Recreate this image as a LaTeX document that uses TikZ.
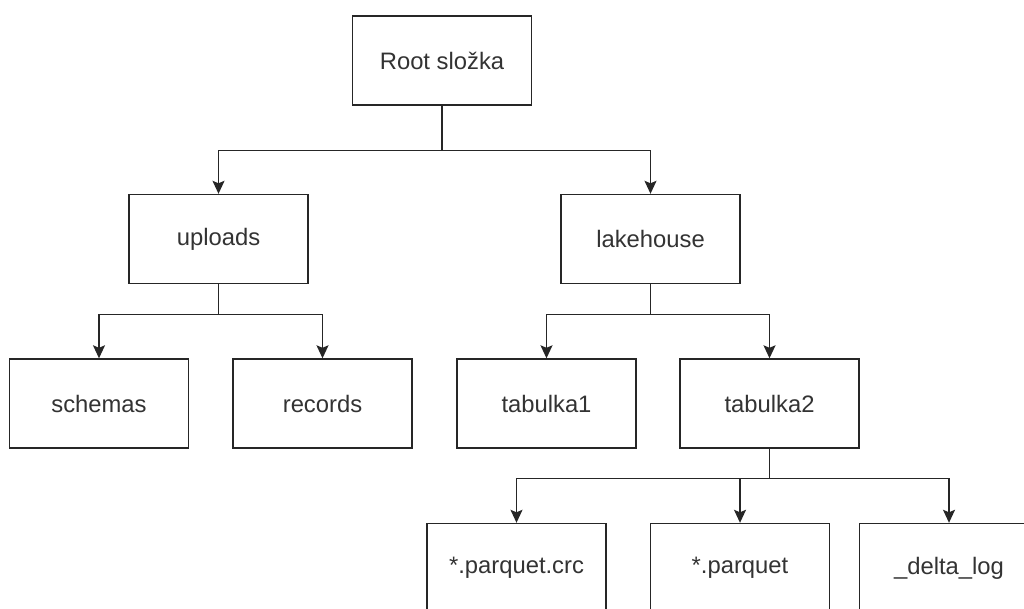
\documentclass[tikz,border=0pt]{standalone}
\usepackage{fontspec}
\setmainfont{Liberation Sans}
\usetikzlibrary{arrows.meta}
\definecolor{edgegray}{HTML}{262626}
\definecolor{textgray}{HTML}{333333}
\begin{document}
\begin{tikzpicture}[x=1pt,y=-1pt,
  folder/.style={draw=edgegray, line width=1.4pt, fill=white,
    minimum width=179pt, minimum height=89pt, inner sep=0pt,
    text=textgray, font=\fontsize{23.8}{28}\selectfont},
  link/.style={draw=edgegray, line width=1.4pt,
    -{Stealth[length=13pt,width=12pt,inset=2.5pt]}}]
  \useasboundingbox (0,0) rectangle (1024,608);
  \clip (0,0) rectangle (1024,608);

  % folder tree
  \node[folder] (root) at (442,60.5) {Root složka};
  \node[folder] (uploads) at (218.5,239) {uploads};
  \node[folder] (lake) at (650.5,239) {lakehouse};
  \node[folder] (schemas) at (99,403.5) {schemas};
  \node[folder] (records) at (322.5,403.5) {records};
  \node[folder] (tab1) at (546.5,403.5) {tabulka1};
  \node[folder] (tab2) at (769.5,403.5) {tabulka2};
  \node[folder] (crc) at (516.5,568) {*.parquet.crc};
  \node[folder] (parquet) at (740,568) {*.parquet};
  \node[folder] (delta) at (949,568) {\_delta\_log};

  % connectors
  \draw[link] (root.south) -- ++(0,45) -| (uploads.north);
  \draw[link] (root.south) -- ++(0,45) -| (lake.north);
  \draw[link] (uploads.south) -- ++(0,30) -| (schemas.north);
  \draw[link] (uploads.south) -- ++(0,30) -| (records.north);
  \draw[link] (lake.south) -- ++(0,30) -| (tab1.north);
  \draw[link] (lake.south) -- ++(0,30) -| (tab2.north);
  \draw[link] (tab2.south) -- ++(0,30) -| (crc.north);
  \draw[link] (tab2.south) -- ++(0,30) -| (parquet.north);
  \draw[link] (tab2.south) -- ++(0,30) -| (delta.north);
\end{tikzpicture}
\end{document}
